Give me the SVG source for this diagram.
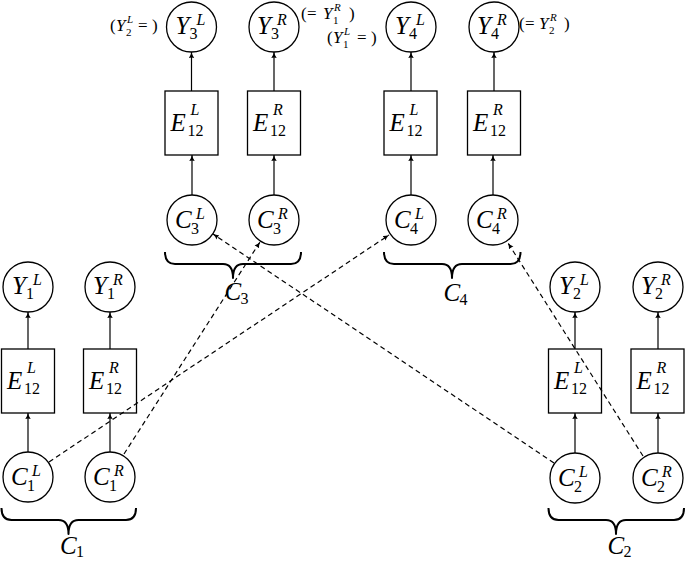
<svg xmlns="http://www.w3.org/2000/svg" width="685" height="562" viewBox="0 0 685 562">
<defs>
<marker id="ah" viewBox="0 0 6 6" refX="6" refY="3" markerWidth="6" markerHeight="6" markerUnits="userSpaceOnUse" orient="auto">
<path d="M0,0.3 Q2.5,2.2 6,3 Q2.5,3.8 0,5.7 Q1,3 0,0.3 z" fill="#000"/>
</marker>
<style>
.nd{fill:none;stroke:#000;stroke-width:1.3}
.ar{stroke:#000;stroke-width:1.2;fill:none;marker-end:url(#ah)}
.da{stroke:#000;stroke-width:1.2;fill:none;stroke-dasharray:5 3.5;marker-end:url(#ah)}
.br{fill:none;stroke:#000;stroke-width:2;stroke-linejoin:round}
text{font-family:"Liberation Serif","Times New Roman",serif;fill:#000}
.b{font-size:25px;font-style:italic}
.s{font-size:16px}
.si{font-size:16px;font-style:italic}
.a{font-size:17px}
.ai{font-size:17px;font-style:italic}
.as{font-size:11px}
.asi{font-size:11px;font-style:italic}
</style>
</defs>
<rect width="685" height="562" fill="#fff"/>

<!-- Group 1 -->
<g id="Y1L"><circle class="nd" cx="28" cy="287" r="25"/><text class="b" x="12" y="294">Y</text><text class="s" x="26" y="299">1</text><text class="si" x="33" y="285">L</text></g>
<g id="Y1R"><circle class="nd" cx="110" cy="287" r="25"/><text class="b" x="93" y="294">Y</text><text class="s" x="107" y="299">1</text><text class="si" x="113" y="285">R</text></g>
<g id="E1L"><rect class="nd" x="1.5" y="349" width="53" height="64"/><text class="b" x="7" y="389">E</text><text class="s" x="24" y="394">12</text><text class="si" x="27" y="373">L</text></g>
<g id="E1R"><rect class="nd" x="83.5" y="349" width="53" height="64"/><text class="b" x="89" y="389">E</text><text class="s" x="106" y="394">12</text><text class="si" x="109" y="373">R</text></g>
<g id="C1L"><circle class="nd" cx="28" cy="477" r="25"/><text class="b" x="11" y="485">C</text><text class="s" x="27" y="491">1</text><text class="si" x="32" y="476">L</text></g>
<g id="C1R"><circle class="nd" cx="110" cy="477" r="25"/><text class="b" x="93" y="485">C</text><text class="s" x="109" y="491">1</text><text class="si" x="114" y="476">R</text></g>
<g id="C1"><path class="br" d="M1.5,508 Q1.5,520 11.5,520 L58.5,520 Q68.5,520 68.5,534 Q68.5,520 78.5,520 L126,520 Q136,520 136,508"/><text class="b" x="60" y="554">C</text><text class="s" x="76" y="557">1</text></g>

<!-- Group 2 -->
<g id="Y2L"><circle class="nd" cx="575" cy="287" r="25"/><text class="b" x="559" y="294">Y</text><text class="s" x="573" y="299">2</text><text class="si" x="580" y="285">L</text></g>
<g id="Y2R"><circle class="nd" cx="658" cy="287" r="25"/><text class="b" x="641" y="294">Y</text><text class="s" x="655" y="299">2</text><text class="si" x="661" y="285">R</text></g>
<g id="E2L"><rect class="nd" x="548.5" y="349" width="53" height="64"/><text class="b" x="554" y="389">E</text><text class="s" x="571" y="394">12</text><text class="si" x="574" y="373">L</text></g>
<g id="E2R"><rect class="nd" x="631" y="349" width="53" height="64"/><text class="b" x="636.5" y="389">E</text><text class="s" x="653.5" y="394">12</text><text class="si" x="656.5" y="373">R</text></g>
<g id="C2L"><circle class="nd" cx="575" cy="478" r="25"/><text class="b" x="558" y="486">C</text><text class="s" x="574" y="492">2</text><text class="si" x="579" y="477">L</text></g>
<g id="C2R"><circle class="nd" cx="658" cy="478" r="25"/><text class="b" x="641" y="486">C</text><text class="s" x="657" y="492">2</text><text class="si" x="662" y="477">R</text></g>
<g id="C2"><path class="br" d="M548.5,508 Q548.5,520 558.5,520 L606,520 Q616,520 616,534 Q616,520 626,520 L674,520 Q684,520 684,508"/><text class="b" x="607.5" y="554">C</text><text class="s" x="623.5" y="557">2</text></g>

<!-- Group 3 -->
<g id="Y3L"><circle class="nd" cx="191.5" cy="27" r="25"/><text class="b" x="175.5" y="34">Y</text><text class="s" x="189.5" y="39">3</text><text class="si" x="196.5" y="25">L</text></g>
<g id="Y3R"><circle class="nd" cx="274" cy="27" r="25"/><text class="b" x="257" y="34">Y</text><text class="s" x="271" y="39">3</text><text class="si" x="277" y="25">R</text></g>
<g id="E3L"><rect class="nd" x="165" y="91" width="53" height="64"/><text class="b" x="170.5" y="131">E</text><text class="s" x="187.5" y="136">12</text><text class="si" x="190.5" y="115">L</text></g>
<g id="E3R"><rect class="nd" x="247.5" y="91" width="53" height="64"/><text class="b" x="253" y="131">E</text><text class="s" x="270" y="136">12</text><text class="si" x="273" y="115">R</text></g>
<g id="C3L"><circle class="nd" cx="192" cy="220" r="25"/><text class="b" x="175" y="228">C</text><text class="s" x="191" y="234">3</text><text class="si" x="196" y="219">L</text></g>
<g id="C3R"><circle class="nd" cx="274" cy="220" r="25"/><text class="b" x="257" y="228">C</text><text class="s" x="273" y="234">3</text><text class="si" x="278" y="219">R</text></g>
<g id="C3"><path class="br" d="M165,252 Q165,264 175,264 L223,264 Q233,264 233,278 Q233,264 243,264 L291,264 Q301,264 301,252"/><text class="b" x="224.5" y="300">C</text><text class="s" x="240.5" y="304">3</text></g>

<!-- Group 4 -->
<g id="Y4L"><circle class="nd" cx="411" cy="27" r="25"/><text class="b" x="395" y="34">Y</text><text class="s" x="409" y="39">4</text><text class="si" x="416" y="25">L</text></g>
<g id="Y4R"><circle class="nd" cx="494" cy="27" r="25"/><text class="b" x="477" y="34">Y</text><text class="s" x="491" y="39">4</text><text class="si" x="497" y="25">R</text></g>
<g id="E4L"><rect class="nd" x="384" y="91" width="53" height="64"/><text class="b" x="389.5" y="131">E</text><text class="s" x="406.5" y="136">12</text><text class="si" x="409.5" y="115">L</text></g>
<g id="E4R"><rect class="nd" x="467.5" y="91" width="53" height="64"/><text class="b" x="473" y="131">E</text><text class="s" x="490" y="136">12</text><text class="si" x="493" y="115">R</text></g>
<g id="C4L"><circle class="nd" cx="411" cy="220" r="25"/><text class="b" x="394" y="228">C</text><text class="s" x="410" y="234">4</text><text class="si" x="415" y="219">L</text></g>
<g id="C4R"><circle class="nd" cx="493" cy="220" r="25"/><text class="b" x="476" y="228">C</text><text class="s" x="492" y="234">4</text><text class="si" x="497" y="219">R</text></g>
<g id="C4"><path class="br" d="M384,252 Q384,264 394,264 L442,264 Q452,264 452,278 Q452,264 462,264 L510.5,264 Q520.5,264 520.5,252"/><text class="b" x="443.5" y="301">C</text><text class="s" x="459.5" y="305">4</text></g>

<!-- Annotations -->
<g id="ann3L"><text class="a" x="110" y="31">(</text><text class="ai" x="116" y="31">Y</text><text class="as" x="126" y="36">2</text><text class="asi" x="127" y="23">L</text><text class="a" x="138" y="31">=</text><text class="a" x="152" y="31">)</text></g>
<g id="ann3R"><text class="a" x="301" y="19">(</text><text class="a" x="307" y="19">=</text><text class="ai" x="323" y="19">Y</text><text class="as" x="333" y="24">1</text><text class="asi" x="334" y="11">R</text><text class="a" x="349" y="19">)</text></g>
<g id="ann4L"><text class="a" x="327" y="43">(</text><text class="ai" x="333" y="43">Y</text><text class="as" x="343" y="48">1</text><text class="asi" x="344" y="35">L</text><text class="a" x="357" y="43">=</text><text class="a" x="371" y="43">)</text></g>
<g id="ann4R"><text class="a" x="519" y="29">(</text><text class="a" x="525" y="29">=</text><text class="ai" x="539" y="29">Y</text><text class="as" x="549" y="34">2</text><text class="asi" x="550" y="21">R</text><text class="a" x="564" y="29">)</text></g>

<g id="connectors">
<line class="ar" x1="28" y1="452" x2="28" y2="413"/>
<line class="ar" x1="110" y1="452" x2="110" y2="413"/>
<line class="ar" x1="28" y1="349" x2="28" y2="312"/>
<line class="ar" x1="110" y1="349" x2="110" y2="312"/>
<line class="ar" x1="575" y1="453" x2="575" y2="413"/>
<line class="ar" x1="658" y1="453" x2="658" y2="413"/>
<line class="ar" x1="575" y1="349" x2="575" y2="312"/>
<line class="ar" x1="658" y1="349" x2="658" y2="312"/>
<line class="ar" x1="192" y1="195" x2="192" y2="155"/>
<line class="ar" x1="274" y1="195" x2="274" y2="155"/>
<line class="ar" x1="191.5" y1="91" x2="191.5" y2="52"/>
<line class="ar" x1="274" y1="91" x2="274" y2="52"/>
<line class="ar" x1="411" y1="195" x2="411" y2="155"/>
<line class="ar" x1="493" y1="195" x2="493" y2="155"/>
<line class="ar" x1="411" y1="91" x2="411" y2="52"/>
<line class="ar" x1="494" y1="91" x2="494" y2="52"/>
<line class="da" x1="49" y1="462" x2="389" y2="235"/>
<line class="da" x1="124" y1="454" x2="260" y2="242"/>
<line class="da" x1="554" y1="463" x2="213" y2="234"/>
<line class="da" x1="643" y1="456" x2="508" y2="243"/>
</g>
</svg>
